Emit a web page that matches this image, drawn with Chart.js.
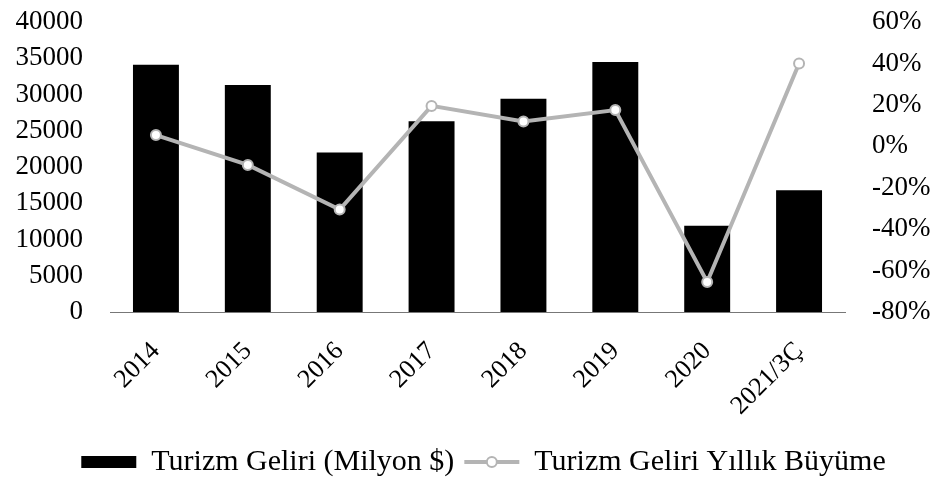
<!DOCTYPE html>
<html>
<head>
<meta charset="utf-8">
<script src="https://cdn.jsdelivr.net/npm/chart.js@4.4.0/dist/chart.umd.min.js"></script>
<style>
  html, body { margin: 0; padding: 0; background: #fff; }
  #wrap { width: 937px; height: 483px; }
</style>
</head>
<body>
<div id="wrap"><canvas id="turizmChart" width="937" height="483"></canvas></div>
<script>
const years = ["2014", "2015", "2016", "2017", "2018", "2019", "2020", "2021/3Ç"];
const revenue = [34100, 31300, 22000, 26300, 29400, 34500, 11900, 16800];
const growth = [5.4, -9, -30.5, 19.5, 12, 17.5, -65.5, 40];

const serif = "'Liberation Serif', 'Times New Roman', serif";
const lineGrey = "#b4b4b4";
const legendFont = 30;
const legendBoxW = 55;
const legendShift = 15;

// nudge the legend a little right, and put a circle on the line item
const legendTweaks = {
  id: "legendTweaks",
  afterUpdate(chart) {
    const lg = chart.legend;
    if (!lg) return;
    lg.left += legendShift;
    lg.right += legendShift;
    (lg.legendHitBoxes || []).forEach(b => { b.left += legendShift; });
  },
  afterDraw(chart) {
    const lg = chart.legend;
    if (!lg || !lg.legendHitBoxes || lg.legendHitBoxes.length < 2) return;
    const box = lg.legendHitBoxes[1];
    const ctx = chart.ctx;
    const cx = box.left + legendBoxW / 2;
    const cy = box.top + legendFont / 2;
    ctx.save();
    ctx.beginPath();
    ctx.arc(cx, cy, 5, 0, Math.PI * 2);
    ctx.fillStyle = "#fff";
    ctx.fill();
    ctx.lineWidth = 2;
    ctx.strokeStyle = lineGrey;
    ctx.stroke();
    ctx.restore();
  }
};

const ctx = document.getElementById("turizmChart").getContext("2d");
new Chart(ctx, {
  data: {
    labels: years,
    datasets: [
      {
        type: "line",
        label: "Turizm Geliri Yıllık Büyüme",
        data: growth,
        yAxisID: "y1",
        borderColor: lineGrey,
        backgroundColor: "#fff",
        borderWidth: 4,
        pointRadius: 5,
        pointBorderWidth: 2,
        pointBackgroundColor: "#fff",
        pointBorderColor: lineGrey,
        tension: 0,
        order: 0
      },
      {
        type: "bar",
        label: "Turizm Geliri (Milyon $)",
        data: revenue,
        yAxisID: "y",
        backgroundColor: "#000",
        borderWidth: 0,
        barPercentage: 0.5,
        categoryPercentage: 1,
        order: 1
      }
    ]
  },
  options: {
    responsive: false,
    animation: false,
    layout: { padding: { top: 22, left: 0, right: 0, bottom: -4 } },
    scales: {
      x: {
        grid: { display: false, drawTicks: false },
        border: { display: true, color: "#777", dash: [1, 2], width: 1 },
        ticks: {
          color: "#000",
          font: { family: serif, size: 26 },
          minRotation: 45,
          maxRotation: 45,
          autoSkip: false,
          padding: 24
        },
        afterFit(scale) { scale.height = 125; }
      },
      y: {
        position: "left",
        min: 0,
        max: 40000,
        grid: { display: false, drawTicks: true, tickLength: 27 },
        border: { display: false },
        ticks: {
          stepSize: 5000,
          autoSkip: false,
          color: "#000",
          font: { family: serif, size: 27 },
          padding: 0,
          callback: v => String(v)
        },
        afterFit(scale) { scale.width = 110; }
      },
      y1: {
        position: "right",
        min: -80,
        max: 60,
        grid: { display: false, drawTicks: true, tickLength: 27 },
        border: { display: false },
        ticks: {
          stepSize: 20,
          autoSkip: false,
          color: "#000",
          font: { family: serif, size: 27 },
          padding: 0,
          callback: v => v + "%"
        },
        afterFit(scale) { scale.width = 92; }
      }
    },
    plugins: {
      tooltip: { enabled: false },
      legend: {
        position: "bottom",
        labels: {
          color: "#000",
          font: { family: serif, size: legendFont },
          usePointStyle: true,
          pointStyleWidth: legendBoxW,
          boxHeight: 12,
          padding: 10,
          generateLabels(chart) {
            const items = Chart.defaults.plugins.legend.labels.generateLabels(chart);
            items.forEach(it => {
              if (it.datasetIndex === 1) {
                it.pointStyle = "rect";
                it.fillStyle = "#000";
                it.strokeStyle = "#000";
                it.lineWidth = 0;
              } else {
                it.pointStyle = "line";
                it.strokeStyle = lineGrey;
                it.lineWidth = 4;
              }
            });
            // bar first, then line
            return items.sort((a, b) => b.datasetIndex - a.datasetIndex);
          }
        }
      }
    }
  },
  plugins: [legendTweaks]
});
</script>
</body>
</html>
